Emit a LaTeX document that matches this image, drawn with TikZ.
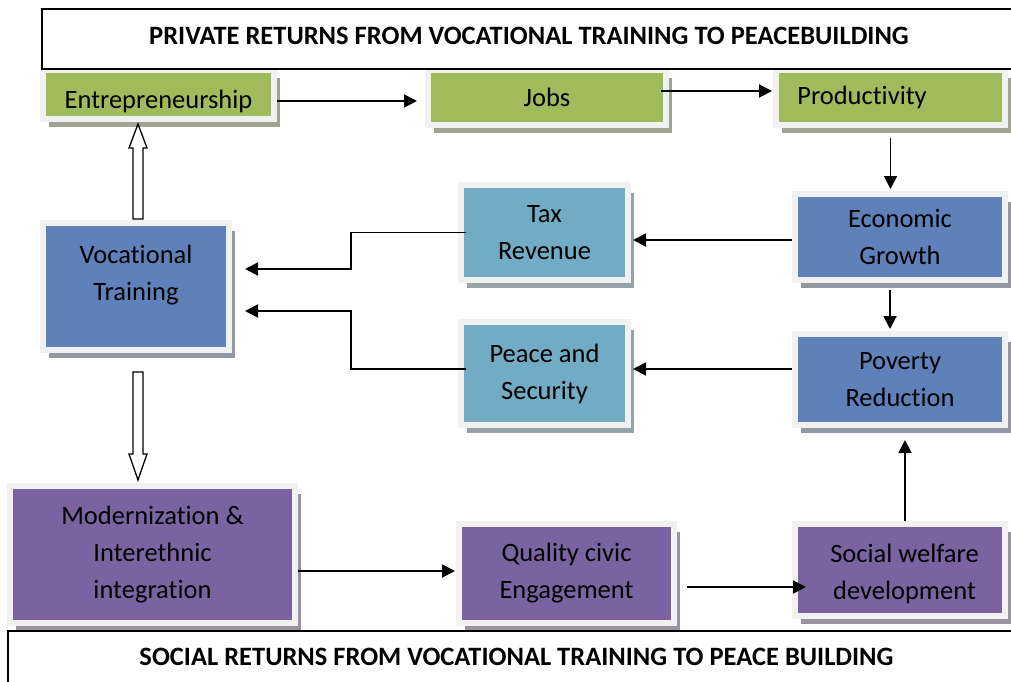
\documentclass[tikz,border=0pt]{standalone}
\usepackage{fontspec}
\setmainfont{Carlito}[Ligatures=NoCommon]
\usepackage{tikz}
\usetikzlibrary{arrows.meta}
\usetikzlibrary{shadows}
\definecolor{greenbox}{HTML}{9FBB5C}
\definecolor{bluebox}{HTML}{6080B9}
\definecolor{tealbox}{HTML}{71ABC4}
\definecolor{purplebox}{HTML}{7A63A0}
\definecolor{framegray}{HTML}{F1F1F1}

\begin{document}
\begin{tikzpicture}[x=1pt, y=-1pt,
    txt/.style={font=\fontsize{26.5}{37}\selectfont, align=center, text=black},
    box/.style={draw=framegray, line width=6pt, fill=#1, inner sep=0pt, txt,
        drop shadow={shadow xshift=6pt, shadow yshift=-8pt, opacity=1, fill=#1!40!black!50}},
    headline/.style={draw=black, line width=1.4pt, fill=white, inner sep=0pt, txt,
        font=\fontsize{26.5}{37}\selectfont\bfseries},
    arr/.style={line width=1.9pt, -{Triangle[length=13pt, width=13pt]}},
    hollow/.style={draw=black, line width=1.3pt, fill=white}]
                \useasboundingbox (0,0) rectangle (1011,682);
                \clip (0,0) rectangle (1011,682);

                % Private returns row
                \node[box=greenbox, minimum width=231pt, minimum height=49pt,
                    label={[txt, yshift=-6.5pt]center:Entrepreneurship}] (ent) at (158.5,94.5) {};
                \node[box=greenbox, minimum width=238pt, minimum height=55pt] (jobs) at (547,97.5) {Jobs};
                \node[box=greenbox, minimum width=229pt, minimum height=55pt,
                    label={[txt, xshift=-28.5pt]center:Productivity}] (prod) at (890.5,97.5) {};

                % Middle boxes
                \node[box=bluebox, minimum width=210pt, minimum height=86pt] (eg) at (900,237) {Economic\\Growth};
                \node[box=tealbox, minimum width=167pt, minimum height=95pt] (tax) at (544.5,232.5) {Tax\\Revenue};
                \node[box=bluebox, minimum width=186pt, minimum height=127pt,
                    label={[txt, yshift=11.5pt]center:Vocational\\Training}] (vt) at (136,286.5) {};
                \node[box=tealbox, minimum width=167pt, minimum height=103pt] (ps) at (544.5,373.5) {Peace and\\Security};
                \node[box=bluebox, minimum width=210pt, minimum height=91pt] (pr) at (900,379.5) {Poverty\\Reduction};

                % Social returns row
                \node[box=purplebox, minimum width=285pt, minimum height=137pt] (mod) at (152.5,554.5) {Modernization \&\\Interethnic\\integration};
                \node[box=purplebox, minimum width=215pt, minimum height=99pt] (qce) at (566.5,573.5) {Quality civic\\Engagement};
                \node[box=purplebox, minimum width=210pt, minimum height=92pt,
                    label={[txt, xshift=4.5pt, yshift=-4pt]center:Social welfare\\development}] (swd) at (900,570) {};

                % Arrows along the top
                \draw[arr, shorten >=8pt] ([yshift=-6.5pt]ent.east) -- ([yshift=-6.5pt]ent.east -| jobs.west);
                \draw[arr, shorten >=1pt] ([xshift=-8pt,yshift=6.5pt]jobs.east) -- ([yshift=6.5pt]jobs.east -| prod.west);
                \draw[arr, shorten <=10pt, shorten >=2pt] (prod.south) -- (prod.south |- eg.north);

                % Arrows back to training
                \draw[arr, shorten >=2pt] ([yshift=-3pt]eg.west) -- ([yshift=-3pt]eg.west -| tax.east);
                \draw[arr, shorten >=13pt] ([xshift=8pt]tax.west) -- ++(-115,0) |- ([yshift=17.5pt]vt.east);
                \draw[arr, shorten <=7pt, shorten >=2pt] ([xshift=-10pt]eg.south) -- ([xshift=-10pt]eg.south |- pr.north);
                \draw[arr, shorten >=2pt] ([yshift=10.5pt]pr.west) -- ([yshift=10.5pt]pr.west -| ps.east);
                \draw[arr, shorten >=13pt] ([xshift=8pt,yshift=4.5pt]ps.west) -- ++(-115,0) |- ([yshift=-24.5pt]vt.east);

                % Arrows along the bottom
                \draw[arr, shorten >=1pt] ([yshift=-16.5pt]mod.east) -- ([yshift=-16.5pt]mod.east -| qce.west);
                \draw[arr, shorten >=-14pt] ([xshift=10pt,yshift=-13.5pt]qce.east) -- ([yshift=-13.5pt]qce.east -| swd.west);
                \draw[arr, shorten >=12pt] ([xshift=5pt]swd.north) -- ([xshift=5pt]swd.north |- pr.south);

                % Hollow arrows from training
                \draw[hollow] ([xshift=-3pt,yshift=1pt]vt.north) -- ++(0,-71) -- ++(-4,0) -- ++(9,-24)
                    -- ++(9,24) -- ++(-4,0) -- ++(0,71) -- cycle;
                \draw[hollow] ([xshift=-3pt,yshift=-19pt]vt.south) -- ++(0,82) -- ++(-4,0) -- ++(9,26)
                    -- ++(9,-26) -- ++(-4,0) -- ++(0,-82) -- cycle;

                % Headlines
                \node[headline, text depth=6pt, minimum width=974pt, minimum height=60pt] (private) at (529,39)
                    {PRIVATE RETURNS FROM VOCATIONAL TRAINING TO PEACEBUILDING};
                \node[headline, minimum width=1017pt, minimum height=52pt] (social) at (516.5,657)
                    {SOCIAL RETURNS FROM VOCATIONAL TRAINING TO PEACE BUILDING};
\end{tikzpicture}
\end{document}
